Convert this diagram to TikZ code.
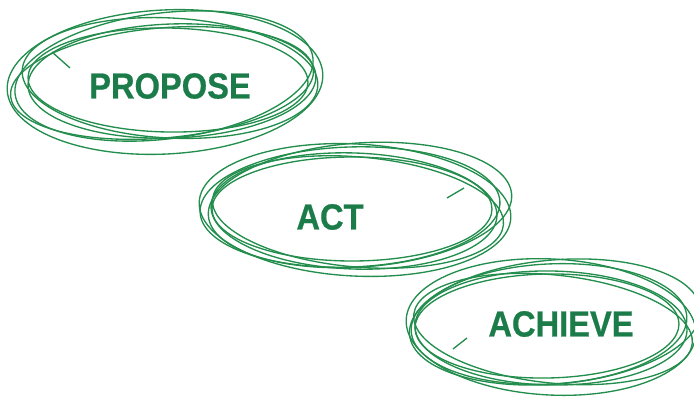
\documentclass[tikz,border=0pt]{standalone}
\usepackage{fontspec}
\newfontfamily\stepfont[FakeStretch=0.9,FakeBold=0.6]{Liberation Sans}
\definecolor{scribble}{RGB}{34,141,76}
\definecolor{steptext}{RGB}{27,124,74}
\tikzset{
  loopline/.style={draw=scribble,line width=0.95pt},
  stepname/.style={text=steptext,font=\stepfont\bfseries\fontsize{25.8}{26}\selectfont,inner sep=0pt}
}
\begin{document}
\begin{tikzpicture}[x=0.025cm,y=-0.025cm]
  \useasboundingbox (0,0) rectangle (694,399);

  \begin{scope}[every node/.style={stepname}]
    \node (propose) at (170,86)  {PROPOSE};
    \node (act)     at (330,217) {ACT};
    \node (achieve) at (561,324) {ACHIEVE};
  \end{scope}

  % scribbled rings round each step
  \foreach \dx/\dy/\rx/\ry/\r in {-5/-4/158/72/3, 0/-8/148/60/-3, -8/-3/152/55/5,
                                  -2/-6/140/52/-1, -6/-10/150/63/7, 2/-5/144/57/2}
    \draw[loopline] ([xshift=\dx*0.025cm,yshift=-\dy*0.025cm]propose.center)
      ellipse [x radius=\rx, y radius=\ry, rotate=\r];
  \draw[loopline] (52,52) -- (70,68);

  \foreach \dx/\dy/\rx/\ry/\r in {25/-7/156/66/-3, 20/-10/150/60/2, 28/-5/146/55/-5,
                                  22/-8/140/52/0, 30/-12/152/62/4, 24/-6/143/58/-2}
    \draw[loopline] ([xshift=\dx*0.025cm,yshift=-\dy*0.025cm]act.center)
      ellipse [x radius=\rx, y radius=\ry, rotate=\r];
  \draw[loopline] (447,198) -- (464,188);

  \foreach \dx/\dy/\rx/\ry/\r in {-10/3/145/68/-3, -12/0/138/60/3, -8/5/140/54/-6,
                                  -14/2/132/52/1, -6/-2/146/62/5, -10/4/136/57/-1}
    \draw[loopline] ([xshift=\dx*0.025cm,yshift=-\dy*0.025cm]achieve.center)
      ellipse [x radius=\rx, y radius=\ry, rotate=\r];
  \draw[loopline] (453,349) -- (467,338);

\end{tikzpicture}
\end{document}
